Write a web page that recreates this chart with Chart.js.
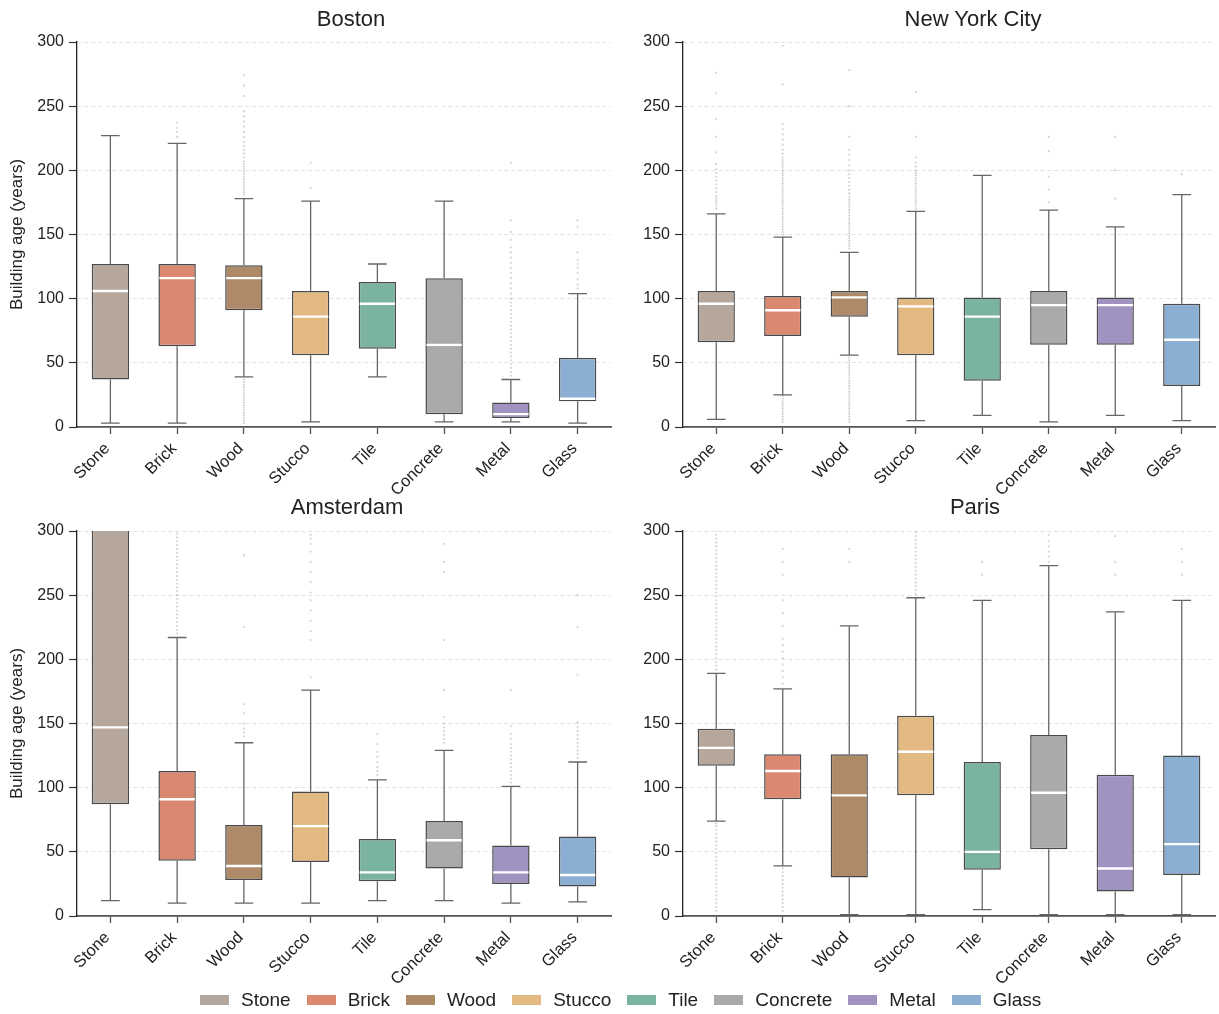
<!DOCTYPE html>
<html>
<head>
<meta charset="utf-8">
<script src="https://cdn.jsdelivr.net/npm/chart.js@4.4.1/dist/chart.umd.min.js"></script>
<style>
  body { margin: 0; background: #fff; }
  #wrap { position: relative; width: 1219px; height: 1014px; font-family: "Liberation Sans", Arial, sans-serif; color: #222; overflow: hidden; }
  canvas { position: absolute; }
  .ttl { position: absolute; width: 300px; text-align: center; font-size: 22px; line-height: 22px; }
  #legend { position: absolute; left: 192px; top: 989px; display: flex; font-size: 19px; line-height: 22px; }
  #legend span.item { display: flex; align-items: center; margin: 0 8px; }
  #legend span.sw { display: inline-block; width: 29px; height: 10px; margin-right: 12px; }
</style>
</head>
<body>
<div id="wrap">
  <canvas id="boston" width="615" height="510" style="left:0;top:0"></canvas>
  <canvas id="nyc" width="613" height="510" style="left:606px;top:0"></canvas>
  <canvas id="amsterdam" width="615" height="509" style="left:0;top:490px"></canvas>
  <canvas id="paris" width="613" height="509" style="left:606px;top:490px"></canvas>
  <div class="ttl" style="left:201px;top:8px">Boston</div>
  <div class="ttl" style="left:823px;top:8px">New York City</div>
  <div class="ttl" style="left:197px;top:496px">Amsterdam</div>
  <div class="ttl" style="left:825px;top:496px">Paris</div>
  <div id="legend"></div>
</div>
<script>
// categories and colours
const materials = ['Stone', 'Brick', 'Wood', 'Stucco', 'Tile', 'Concrete', 'Metal', 'Glass'];
const matColors = ['#b5a79c', '#db8870', '#ae8a69', '#e3b982', '#7ab49f', '#aaaaaa', '#a193c1', '#8aafd2'];
const yTicks = [0, 50, 100, 150, 200, 250, 300];

// Boston
const bostonLow  = [3, 3, 39, 4, 39, 4, 4, 3];
const bostonQ1   = [37, 63, 91, 56, 61, 10, 7, 20];
const bostonMed  = [106, 116, 116, 86, 96, 64, 10, 22];
const bostonQ3   = [127, 127, 126, 106, 113, 116, 19, 54];
const bostonHigh = [227, 221, 178, 176, 127, 176, 37, 104];
const bostonOut = [
  [],
  [226, 230, 233, 237],
  [181, 183, 185, 187, 189, 191, 193, 195, 197, 199, 201, 203, 205, 207, 210, 213, 216, 219, 222, 226, 230, 234, 238, 242, 246, 258, 266, 274,
   3, 5, 7, 9, 11, 13, 15, 17, 19, 21, 23, 25, 27, 29, 31, 33, 35, 37],
  [186, 206],
  [],
  [],
  [40, 43, 46, 49, 52, 55, 58, 61, 64, 67, 70, 73, 76, 79, 82, 85, 88, 91, 94, 97, 100, 104, 108, 112, 116, 120, 124, 128, 132, 136, 140, 146, 152, 161, 206],
  [108, 111, 115, 120, 124, 127, 130, 136, 156, 161]
];

// New York City
const nycLow  = [6, 25, 56, 5, 9, 4, 9, 5];
const nycQ1   = [66, 71, 86, 56, 36, 64, 64, 32];
const nycMed  = [96, 91, 101, 94, 86, 95, 95, 68];
const nycQ3   = [106, 102, 106, 101, 101, 106, 101, 96];
const nycHigh = [166, 148, 136, 168, 196, 169, 156, 181];
const nycOut = [
  [170, 172, 174, 176, 178, 180, 183, 186, 189, 192, 195, 198, 201, 205, 214, 226, 240, 260, 276],
  [150, 152, 154, 156, 158, 160, 162, 164, 166, 168, 170, 172, 174, 176, 178, 180, 182, 184, 186, 188, 190, 192, 194, 196, 198, 200,
   202, 204, 206, 208, 210, 213, 216, 220, 224, 228, 232, 236, 267, 297,
   4, 6, 8, 10, 12, 14, 16, 18, 20, 22, 24],
  [139, 141, 143, 145, 147, 149, 151, 153, 155, 157, 159, 161, 163, 165, 167, 169, 171, 173, 175, 177, 179, 182, 185, 188, 191, 194,
   197, 200, 204, 208, 212, 216, 226, 250, 278,
   4, 6, 8, 10, 12, 14, 16, 18, 20, 22, 24, 26, 28, 30, 32, 34, 36, 38, 40, 42, 44, 46, 48, 50, 52, 54],
  [170, 172, 174, 176, 178, 180, 182, 184, 186, 188, 190, 192, 194, 196, 198, 200, 203, 206, 210, 226, 261],
  [],
  [175, 185, 195, 215, 226],
  [178, 200, 226],
  [197]
];

// Amsterdam
const amsLow  = [12, 10, 10, 10, 12, 12, 10, 11];
const amsQ1   = [87, 43, 28, 42, 27, 37, 25, 23];
const amsMed  = [147, 91, 39, 70, 34, 59, 34, 32];
const amsQ3   = [330, 113, 71, 97, 60, 74, 55, 62];
const amsHigh = [480, 217, 135, 176, 106, 129, 101, 120];
const amsOut = [
  [],
  [220, 223, 226, 229, 232, 235, 238, 241, 244, 247, 250, 253, 256, 259, 262, 265, 268, 271, 274, 277, 280, 283, 286, 289, 292, 295, 298],
  [140, 143, 146, 150, 158, 165, 225, 281],
  [186, 215, 222, 230, 238, 246, 252, 260, 268, 276, 284, 290, 294, 297],
  [110, 113, 116, 120, 124, 128, 134, 142],
  [135, 138, 141, 144, 147, 150, 155, 176, 215, 268, 276, 290],
  [104, 107, 110, 113, 116, 119, 122, 125, 128, 131, 134, 138, 142, 148, 176],
  [123, 126, 129, 132, 135, 138, 141, 144, 147, 151, 188, 225, 250]
];

// Paris
const parisLow  = [74, 39, 1, 1, 5, 1, 1, 1];
const parisQ1   = [117, 91, 30, 94, 36, 52, 19, 32];
const parisMed  = [131, 113, 94, 128, 50, 96, 37, 56];
const parisQ3   = [146, 126, 126, 156, 120, 141, 110, 125];
const parisHigh = [189, 177, 226, 248, 246, 273, 237, 246];
const parisOut = [
  [192, 195, 198, 201, 204, 207, 210, 213, 216, 219, 222, 225, 228, 231, 234, 237, 240, 243, 246, 249, 252, 255, 258, 261, 264, 267,
   270, 273, 276, 279, 282, 285, 288, 291, 294, 297, 300,
   4, 7, 10, 13, 16, 19, 22, 25, 28, 31, 34, 37, 40, 43, 46, 49, 52, 55, 58, 61, 64, 67, 70, 72],
  [181, 186, 191, 196, 201, 206, 211, 216, 226, 236, 246, 266, 276, 286,
   4, 7, 10, 13, 16, 19, 22, 25, 28, 31, 34, 37],
  [276, 286],
  [251, 254, 257, 260, 263, 266, 269, 272, 275, 278, 281, 284, 287, 290, 293, 296, 299],
  [266, 276],
  [276, 280, 284, 288, 292, 297],
  [266, 276, 296],
  [266, 276, 286]
];

Chart.defaults.font.family = '"Liberation Sans", Arial, sans-serif';
Chart.defaults.color = '#222';

// whiskers, caps and medians, drawn through the chart scales
const boxExtras = {
  id: 'boxExtras',
  afterDatasetsDraw(chart, args, opts) {
    const { ctx, chartArea, scales: { x, y } } = chart;
    const bars = chart.getDatasetMeta(1).data;
    ctx.save();
    ctx.beginPath();
    ctx.rect(chartArea.left, chartArea.top, chartArea.right - chartArea.left, chartArea.bottom - chartArea.top);
    ctx.clip();
    opts.low.forEach((lo, i) => {
      const cx = x.getPixelForValue(i);
      const w = bars[i].width;
      const yLo = y.getPixelForValue(lo), yQ1 = y.getPixelForValue(opts.q1[i]);
      const yQ3 = y.getPixelForValue(opts.q3[i]), yHi = y.getPixelForValue(opts.high[i]);
      ctx.strokeStyle = '#666';
      ctx.lineWidth = 1.3;
      ctx.beginPath();
      ctx.moveTo(cx, yLo); ctx.lineTo(cx, yQ1);
      ctx.moveTo(cx, yQ3); ctx.lineTo(cx, yHi);
      ctx.moveTo(cx - w / 4, yLo); ctx.lineTo(cx + w / 4, yLo);
      ctx.moveTo(cx - w / 4, yHi); ctx.lineTo(cx + w / 4, yHi);
      ctx.stroke();
      const yMed = y.getPixelForValue(opts.med[i]);
      ctx.strokeStyle = '#ffffff';
      ctx.lineWidth = 2.4;
      ctx.beginPath();
      ctx.moveTo(cx - w / 2 + 1, yMed); ctx.lineTo(cx + w / 2 - 1, yMed);
      ctx.stroke();
    });
    ctx.restore();
  }
};

function makePanel(id, low, q1, med, q3, high, out, yTitle, topPad, rightPad) {
  const points = [];
  out.forEach((vals, i) => vals.forEach(v => points.push({ x: materials[i], y: v })));
  new Chart(document.getElementById(id), {
    type: 'bar',
    data: {
      labels: materials,
      datasets: [
        {
          type: 'line',
          data: points,
          showLine: false,
          pointRadius: 1.1,
          pointBackgroundColor: 'rgba(120,120,120,0.32)',
          pointBorderWidth: 0,
          order: 2
        },
        {
          type: 'bar',
          data: q1.map((v, i) => [v, q3[i]]),
          backgroundColor: matColors,
          borderColor: '#4a4a4a',
          borderWidth: 1.5,
          borderSkipped: false,
          barPercentage: 0.56,
          categoryPercentage: 1,
          grouped: false,
          order: 1
        }
      ]
    },
    options: {
      responsive: false,
      animation: false,
      events: [],
      layout: { padding: { top: topPad, right: rightPad, bottom: 8, left: 0 } },
      plugins: {
        legend: { display: false },
        tooltip: { enabled: false },
        boxExtras: { low, q1, med, q3, high }
      },
      scales: {
        x: {
          ticks: { color: '#222', font: { size: 16.5 }, minRotation: 45, maxRotation: 45, padding: 5, labelOffset: -3 },
          grid: { drawOnChartArea: false, offset: false, tickLength: 7, tickColor: '#555', tickWidth: 1.3 },
          border: { color: '#555', width: 1.8 },
          afterFit(s) { s.height = 75; }
        },
        y: {
          min: 0,
          max: 300,
          afterBuildTicks(s) { s.ticks = yTicks.map(v => ({ value: v })); },
          ticks: { color: '#222', font: { size: 16 }, padding: 5 },
          grid: { color: '#e2e2e2', lineWidth: 1, tickColor: '#333', tickLength: 8, tickWidth: 1.2, tickBorderDash: [] },
          border: { color: '#222', width: 1.3, dash: [4, 3] },
          title: { display: yTitle, text: 'Building age (years)', color: '#222', font: { size: 17 }, padding: { top: 7, bottom: 0 } },
          afterFit(s) { s.width = 77; }
        }
      }
    },
    plugins: [boxExtras]
  });
}

makePanel('boston', bostonLow, bostonQ1, bostonMed, bostonQ3, bostonHigh, bostonOut, true, 42, 3);
makePanel('nyc', nycLow, nycQ1, nycMed, nycQ3, nycHigh, nycOut, false, 42, 0);
makePanel('amsterdam', amsLow, amsQ1, amsMed, amsQ3, amsHigh, amsOut, true, 41, 3);
makePanel('paris', parisLow, parisQ1, parisMed, parisQ3, parisHigh, parisOut, false, 41, 0);

// shared legend
const legend = document.getElementById('legend');
materials.forEach((m, i) => {
  const item = document.createElement('span');
  item.className = 'item';
  item.innerHTML = '<span class="sw" style="background:' + matColors[i] + '"></span>' + m;
  legend.appendChild(item);
});
</script>
</body>
</html>
